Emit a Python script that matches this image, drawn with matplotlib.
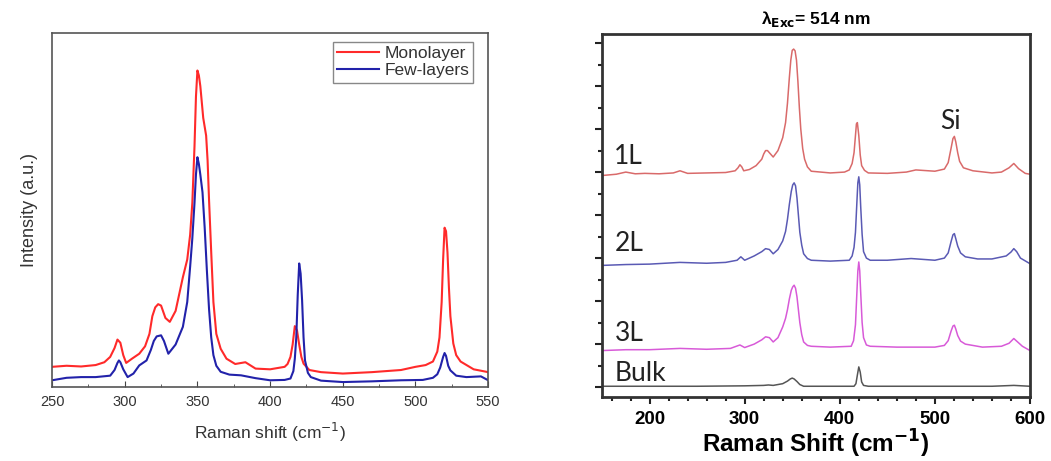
import numpy as np
import matplotlib.pyplot as plt
from matplotlib.ticker import MultipleLocator

plt.rcParams['font.family'] = ['Liberation Sans', 'DejaVu Sans']

# left panel: monolayer vs few-layers (arbitrary intensity, 0-100)
mono_x = [250, 260, 270, 280, 286, 290, 293, 295, 297, 299, 301, 305, 310, 314, 317, 319, 321, 323, 325,
          328, 331, 335, 340, 343, 345, 346.5, 348, 349, 350, 351, 352, 354, 356, 357, 358, 359.5, 361,
          363, 366, 370, 376, 383, 390, 400, 410, 412, 414, 415.5, 417, 418.5, 420, 421.5, 423, 427,
          435, 450, 470, 490, 500, 507, 512, 515, 516.5, 518, 519, 520, 521, 522, 523, 524, 526, 528,
          531, 540, 550]
mono_y = [5.7, 6.0, 5.8, 6.2, 7.0, 8.5, 11.0, 13.4, 12.5, 9.0, 6.8, 8.0, 9.4, 11.5, 15.0, 20.0, 22.5, 23.4, 23.0,
          19.5, 18.4, 21.5, 31.0, 36.0, 43.0, 52.0, 68.0, 82.0, 89.4, 88.0, 85.0, 76.0, 71.0, 64.0, 52.8, 38.0, 24.0,
          15.0, 10.8, 8.0, 6.5, 7.0, 5.2, 5.0, 5.7, 6.5, 8.5, 12.0, 17.2, 16.0, 12.0, 8.5, 6.6, 4.8,
          4.2, 3.8, 4.2, 4.8, 5.7, 6.2, 7.2, 10.0, 14.0, 24.0, 36.0, 45.0, 44.0, 38.0, 28.0, 20.0, 12.3, 9.0,
          7.2, 5.0, 4.2]

few_x = [250, 260, 270, 280, 290, 293, 295, 296, 297, 299, 302, 306, 310, 315, 318, 320, 322, 325, 327,
         330, 335, 340, 343, 345, 346.5, 348, 349, 350, 351, 352, 353.5, 355, 356.5, 358, 359.5, 361,
         363, 366, 372, 380, 390, 400, 410, 414, 416, 417, 418, 419, 420, 421, 422, 423, 424, 426, 428,
         435, 450, 470, 490, 505, 512, 515, 517, 519, 520, 521, 522.5, 524, 528, 535, 545, 550]
few_y = [1.9, 2.6, 2.8, 2.8, 3.2, 4.8, 6.8, 7.5, 7.0, 5.0, 2.8, 3.8, 6.1, 7.5, 10.5, 13.0, 14.3, 14.6, 13.0,
         9.4, 12.0, 17.0, 24.0, 34.0, 42.0, 52.0, 60.0, 64.9, 63.0, 60.0, 55.0, 45.0, 33.0, 22.0, 14.0, 9.0,
         6.0, 4.3, 3.5, 3.3, 2.5, 1.9, 2.0, 2.4, 4.5, 8.0, 14.0, 26.0, 34.9, 32.0, 24.5, 14.0, 7.5, 4.0, 2.8,
         1.8, 1.4, 1.6, 1.9, 2.0, 2.6, 3.6, 5.5, 8.5, 9.6, 8.8, 6.0, 4.7, 3.2, 2.8, 3.0, 1.9]

# right panel: stacked spectra, 514 nm excitation
l1_x = [150, 165, 175, 185, 195, 210, 225, 232, 240, 260, 280, 290, 293, 295, 297, 299, 305, 312, 318,
        320, 322, 324, 326, 330, 335, 340, 343, 345, 347, 348.5, 350, 351.5, 353, 354.5, 356, 357.5,
        359, 361, 363, 366, 370, 380, 390, 405, 410, 413, 415, 416.5, 417.5, 418.5, 420, 421.5, 423,
        426, 430, 450, 470, 480, 500, 510, 514, 517, 519, 520.5, 522, 524, 526, 530, 540, 560, 570,
        578, 583, 588, 595, 600]
l1_y = [4.92, 4.95, 5.0, 4.96, 4.97, 4.96, 4.98, 5.03, 4.97, 4.98, 4.99, 5.03, 5.1, 5.17, 5.12, 5.03, 5.06, 5.15, 5.3,
        5.42, 5.5, 5.5, 5.45, 5.35, 5.5, 5.8, 6.15, 6.6, 7.2, 7.6, 7.83, 7.86, 7.82, 7.6, 7.1, 6.5,
        6.0, 5.55, 5.3, 5.12, 5.02, 5.0, 4.98, 5.0, 5.05, 5.2, 5.45, 5.85, 6.12, 6.15, 5.85, 5.4, 5.15,
        5.04, 4.98, 4.97, 5.0, 5.05, 5.02, 5.07, 5.22, 5.55, 5.78, 5.83, 5.7, 5.45, 5.25, 5.1, 5.03, 4.98, 5.0,
        5.1, 5.2, 5.08, 4.97, 4.95]

l2_x = [150, 175, 200, 232, 260, 280, 292, 296, 300, 310, 318, 322, 326, 330, 335, 340, 343, 345, 347,
        349, 350.5, 352, 353.5, 355, 356.5, 358, 360, 362, 366, 370, 390, 410, 413, 415, 416.5, 418,
        419, 420, 421, 422, 423.5, 425, 428, 432, 450, 475, 500, 510, 514, 517, 519, 520.5, 522, 524,
        527, 532, 545, 560, 575, 580, 583, 586, 590, 600]
l2_y = [2.83, 2.85, 2.86, 2.9, 2.88, 2.9, 2.95, 3.03, 2.95, 3.05, 3.15, 3.22, 3.2, 3.1, 3.2, 3.4, 3.62, 3.9, 4.25,
        4.55, 4.7, 4.75, 4.68, 4.4, 4.0, 3.6, 3.3, 3.1, 2.99, 2.95, 2.93, 2.95, 3.05, 3.25, 3.6, 4.3,
        4.75, 4.89, 4.7, 4.2, 3.55, 3.15, 3.0, 2.95, 2.95, 2.99, 2.95, 3.0, 3.12, 3.38, 3.54, 3.57, 3.45, 3.28,
        3.12, 3.03, 2.98, 2.98, 3.05, 3.14, 3.22, 3.15, 3.0, 2.87]

l3_x = [150, 175, 200, 232, 260, 285, 295, 300, 310, 318, 322, 326, 330, 335, 340, 343, 345, 347, 349,
        350.5, 352, 353.5, 355, 356.5, 358, 360, 362, 366, 370, 390, 412, 414.5, 416.5, 418, 419, 420,
        421, 422, 423.5, 425, 428, 432, 460, 500, 510, 514, 517, 519, 520.5, 522, 524, 527, 532, 550,
        570, 578, 583, 587, 592, 600]
l3_y = [0.85, 0.87, 0.87, 0.9, 0.88, 0.9, 0.98, 0.92, 1.0, 1.1, 1.17, 1.15, 1.05, 1.15, 1.4, 1.6, 1.8, 2.05, 2.25,
        2.33, 2.37, 2.3, 2.1, 1.8, 1.5, 1.22, 1.05, 0.97, 0.95, 0.93, 0.95, 1.08, 1.45, 2.2, 2.7, 2.91,
        2.7, 2.2, 1.5, 1.15, 0.98, 0.95, 0.93, 0.93, 0.97, 1.08, 1.3, 1.42, 1.44, 1.35, 1.2, 1.07, 1.0, 0.93,
        0.95, 1.02, 1.13, 1.05, 0.95, 0.85]

bulk_x = [150, 200, 250, 300, 320, 325, 330, 340, 345, 348, 350, 352, 355, 358, 362, 380, 415, 417, 418.5,
          420, 421.5, 423, 425, 430, 500, 560, 583, 600]
bulk_y = [0.02, 0.02, 0.02, 0.03, 0.04, 0.05, 0.04, 0.08, 0.14, 0.19, 0.21, 0.19, 0.13, 0.06, 0.02, 0.02, 0.02, 0.08, 0.28,
          0.47, 0.35, 0.12, 0.04, 0.02, 0.02, 0.02, 0.04, 0.02]

fig = plt.figure(figsize=(10.51, 4.61), dpi=100)

# ---- left panel
ax1 = fig.add_axes([0.0495, 0.1605, 0.415, 0.768])
ax1.plot(mono_x, mono_y, color='#ff2a2a', lw=1.5, label='Monolayer')
ax1.plot(few_x, few_y, color='#2222aa', lw=1.5, label='Few-layers')
ax1.set_xlim(250, 550)
ax1.set_ylim(0, 100)
ax1.set_yticks([])
ax1.xaxis.set_major_locator(MultipleLocator(50))
ax1.xaxis.set_minor_locator(MultipleLocator(25))
ax1.tick_params(axis='x', which='both', direction='in', top=False, color='#444444',
                labelsize=10.5, labelcolor='#333333', pad=6)
ax1.tick_params(axis='x', which='major', length=4)
ax1.tick_params(axis='x', which='minor', length=2.5)
for s in ax1.spines.values():
    s.set_color('#555555')
    s.set_linewidth(1.2)
ax1.set_xlabel('Raman shift (cm$^{-1}$)', fontsize=12.5, color='#333333', labelpad=8)
ax1.set_ylabel('Intensity (a.u.)', fontsize=13, color='#333333', labelpad=10)
leg = ax1.legend(loc='upper right', bbox_to_anchor=(0.966, 0.975), borderaxespad=0,
                 fontsize=12.5, handlelength=2.4, handletextpad=0.3, borderpad=0.25,
                 labelspacing=0.1, fancybox=False, framealpha=1)
leg.get_frame().set_edgecolor('#888888')
leg.get_frame().set_linewidth(1.0)
for t in leg.get_texts():
    t.set_color('#333333')

# ---- right panel
ax2 = fig.add_axes([0.5728, 0.1388, 0.4072, 0.7874])
ax2.plot(l1_x, l1_y, color='#d96a6a', lw=1.1)
ax2.plot(l2_x, l2_y, color='#5a5ab4', lw=1.1)
ax2.plot(l3_x, l3_y, color='#d85ad8', lw=1.1)
ax2.plot(bulk_x, bulk_y, color='#555555', lw=1.1)
ax2.set_xlim(150, 600)
ax2.set_ylim(-0.23, 8.21)
ax2.xaxis.set_major_locator(MultipleLocator(100))
ax2.xaxis.set_minor_locator(MultipleLocator(20))
ax2.yaxis.set_major_locator(MultipleLocator(1))
ax2.yaxis.set_minor_locator(MultipleLocator(0.5))
ax2.tick_params(axis='both', which='both', direction='out', color='#222222', width=1.5)
ax2.tick_params(axis='both', which='major', length=5)
ax2.tick_params(axis='both', which='minor', length=3)
ax2.tick_params(axis='y', labelleft=False)
ax2.tick_params(axis='x', labelsize=13.5, pad=5)
for t in ax2.get_xticklabels():
    t.set_fontweight('bold')
for s in ax2.spines.values():
    s.set_color('#333333')
    s.set_linewidth(2)
ax2.set_xlabel('Raman Shift (cm$^{\\mathbf{-1}}$)', fontsize=17.5, fontweight='bold', labelpad=0)
ax2.set_title('\u03bb$_{\\mathbf{Exc}}$= 514 nm', fontsize=12.5, fontweight='bold', pad=7)

lab_font = dict(family=['Lato', 'DejaVu Sans'], fontsize=19, color='#222222', va='center')
ax2.text(163, 5.37, '1L', **lab_font)
ax2.text(163, 3.34, '2L', **lab_font)
ax2.text(163, 1.24, '3L', **lab_font)
ax2.text(163, 0.31, 'Bulk', **lab_font)
ax2.text(516, 6.17, 'Si', ha='center', family=['Lato', 'DejaVu Sans'], fontsize=19,
         color='#222222', va='center')

fig.savefig('out.png', dpi=100)
